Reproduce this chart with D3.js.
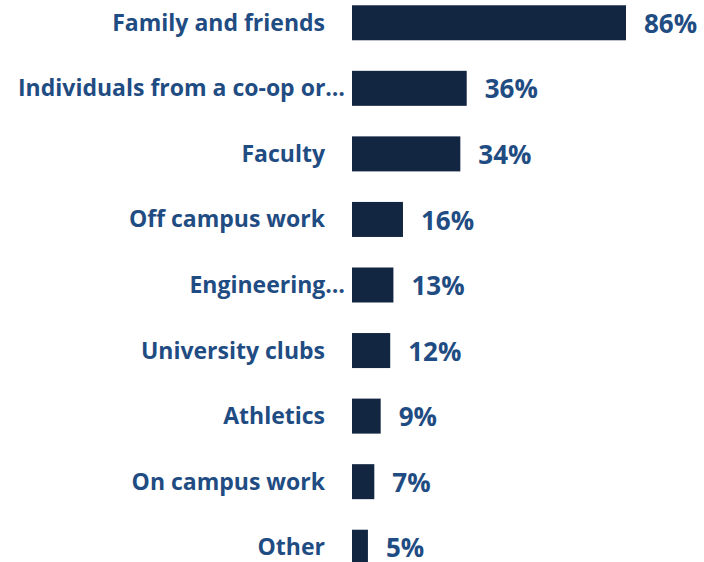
<!DOCTYPE html>
<html>
<head>
<meta charset="utf-8">
<script src="https://cdn.jsdelivr.net/npm/d3@7"></script>
<style>
  html, body { margin: 0; padding: 0; background: #fff; }
  svg { display: block; }
</style>
</head>
<body>
<svg id="chart" width="704" height="562"></svg>
<script>
// Share of respondents by source
const categories = [
  "Family and friends",
  "Individuals from a co-op or…",
  "Faculty",
  "Off campus work",
  "Engineering…",
  "University clubs",
  "Athletics",
  "On campus work",
  "Other"
];
const values = [86, 36, 34, 16, 13, 12, 9, 7, 5];

const svg = d3.select("#chart");
const barColor = "#132641";
const textColor = "#1f4c82";
const fontFamily = "'Open Sans', Lato, sans-serif";

const x0 = 352;
const x = d3.scaleLinear().domain([0, 86]).range([x0, 626]);
const y = d3.scaleBand()
  .domain(categories)
  .range([-10, 580])
  .paddingInner(0.466)
  .paddingOuter(0.233);

svg.selectAll("rect.bar")
  .data(categories)
  .join("rect")
  .attr("class", "bar")
  .attr("x", x(0))
  .attr("y", d => y(d))
  .attr("width", (d, i) => x(values[i]) - x(0))
  .attr("height", y.bandwidth())
  .attr("fill", barColor);

// Category labels, right-aligned to the left of the bars
svg.selectAll("text.cat")
  .data(categories)
  .join("text")
  .attr("class", "cat")
  .attr("x", d => d.endsWith("…") ? 345 : 325)
  .attr("y", d => y(d) + y.bandwidth() / 2)
  .attr("dy", "0.35em")
  .attr("text-anchor", "end")
  .attr("font-family", fontFamily)
  .attr("font-weight", "bold")
  .attr("font-size", 23)
  .attr("fill", textColor)
  .text(d => d);

// Value labels after each bar
svg.selectAll("text.val")
  .data(categories)
  .join("text")
  .attr("class", "val")
  .attr("x", (d, i) => x(values[i]) + 18)
  .attr("y", d => y(d) + y.bandwidth() / 2 + 1)
  .attr("dy", "0.35em")
  .attr("font-family", fontFamily)
  .attr("font-weight", "bold")
  .attr("font-size", 26)
  .attr("fill", textColor)
  .text((d, i) => values[i] + "%");
</script>
</body>
</html>
